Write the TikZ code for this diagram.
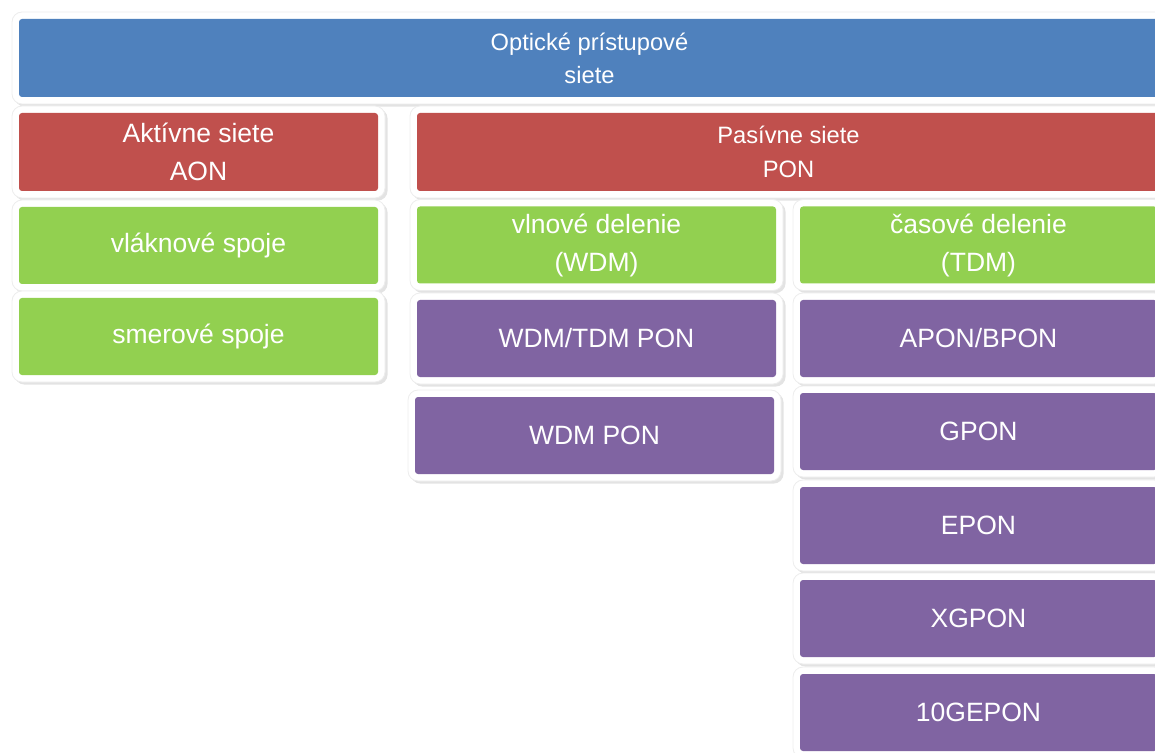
\documentclass[tikz,border=0pt]{standalone}
\usepackage{fontspec}
\setmainfont{Liberation Sans}
\usetikzlibrary{shadows}
\definecolor{rootblue}{HTML}{4F81BD}
\definecolor{netred}{HTML}{C0504D}
\definecolor{kindgreen}{HTML}{92D050}
\definecolor{techviolet}{HTML}{8064A2}

\begin{document}
\begin{tikzpicture}[x=0.5pt,y=-0.5pt]
	\tikzset{tile/.style = {shape=rectangle, rounded corners=5pt, fill=white, draw=black!7, line width=0.4pt,
			text=white, align=center, inner sep=0pt,
			font=\fontsize{13.25}{19}\selectfont,
			drop shadow={shadow xshift=1.3pt, shadow yshift=-1.3pt, opacity=0.22},
			path picture={\fill[#1, rounded corners=1.5pt]
				([shift={(3.5pt,3.5pt)}]path picture bounding box.south west) rectangle
				([shift={(-3.5pt,-3.5pt)}]path picture bounding box.north east);}},
		narrow/.style = {minimum width=186.5pt, minimum height=45.5pt},
		small/.style = {font=\fontsize{11.85}{16.5}\selectfont}}
	\useasboundingbox (0,0) rectangle (1155,753);
	
	\node[tile=rootblue, small, minimum width=577.5pt, minimum height=46pt] (root) at (589.5,58) {Optické prístupové\\siete};
	
	\node[tile=netred, narrow, minimum height=46pt] (aon) at (198.5,152) {Aktívne siete\\AON};
	\node[tile=netred, small, minimum width=378.5pt, minimum height=46pt, font=\fontsize{11.85}{17}\selectfont] (pon) at (788.5,152) {Pasívne siete\\PON};
	
	\node[tile=kindgreen, narrow] (fiber) at (198.5,245.5) {vláknové spoje};
	\node[tile=kindgreen, narrow] (radio) at (198.5,336.5) {smerové spoje};
	\node[tile=kindgreen, narrow] (wdm) at (596.5,245) {vlnové delenie\\(WDM)};
	\node[tile=kindgreen, narrow, minimum width=185.5pt] (tdm) at (978.5,245) {časové delenie\\(TDM)};
	
	\node[tile=techviolet, narrow] (wdmtdm) at (596.5,338.5) {WDM/TDM PON};
	\node[tile=techviolet, narrow] (wdmpon) at (594.5,435.5) {WDM PON};
	
	\node[tile=techviolet, narrow, minimum width=185.5pt] (apon) at (978.5,338.5) {APON/BPON};
	\node[tile=techviolet, narrow, minimum width=185.5pt] (gpon) at (978.5,431.5) {GPON};
	\node[tile=techviolet, narrow, minimum width=185.5pt] (epon) at (978.5,525.5) {EPON};
	\node[tile=techviolet, narrow, minimum width=185.5pt] (xgpon) at (978.5,618.5) {XGPON};
	\node[tile=techviolet, narrow, minimum width=185.5pt] (gepon) at (978.5,712.5) {10GEPON};
	
\end{tikzpicture}
\end{document}
